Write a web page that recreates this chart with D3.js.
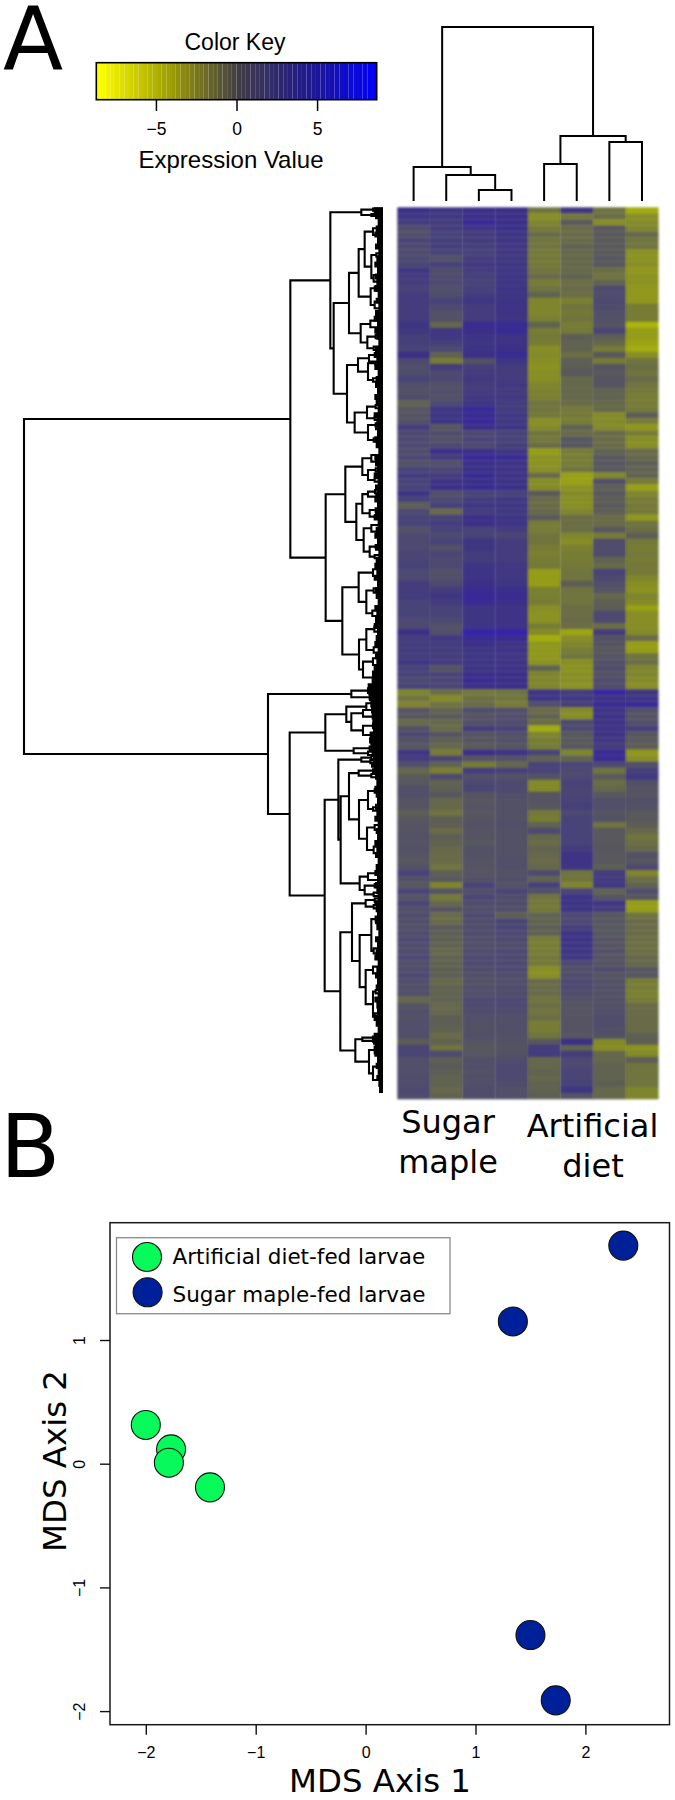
<!DOCTYPE html>
<html><head><meta charset="utf-8">
<script src="https://cdn.jsdelivr.net/npm/d3@7"></script>
<style>html,body{margin:0;padding:0;background:#fff}svg{display:block}</style>
</head><body><svg id="c" width="675" height="1800"></svg>
<script>
// ---------- heat map values, one list per sample, top row to bottom row (10 per line)
const sugar1=[3.5,3,2.5,1.2,1,1.8,1.5,1.3,1.5,1.8,
3,2.5,2.5,2,2.5,2.5,2.5,2.5,2.5,3,
2.8,2.2,2.2,2,3.5,1.5,1,1.2,2,1,
.8,1.2,-.5,.3,.5,.8,2.5,1.5,1.5,1.5,
1.2,1.5,.8,2,2.5,2,2,3.2,2,-.3,
1.5,2,2,.8,1.5,1.5,1.5,1.8,1.8,2,
1.5,1.5,2.5,2.5,2.5,2,2,2,1.5,1.5,
3.5,2.5,2.5,2.5,2.5,3,2,2,1.5,2,
-2.5,-1.5,-2.5,.5,.3,-1,.8,1.5,.8,.3,
3,2.5,1,-.8,0,.3,1,1,.5,.5,
-.3,.3,.5,.5,.8,.5,.8,.5,.3,.8,
2,.8,.3,2,.5,1.8,1,1.2,1,1,
1.2,1.5,1.2,1.2,1.5,1,1.2,1.5,1,1,
1,-.8,.5,1,.8,1,1,1,-.2,1.8,
1.8,1,1,1,1.2,1.2,1.5,1.2];
const sugar2=[3,2.8,2.5,2.5,2,2.2,2.2,2,.8,2.2,
1.2,1.2,1.5,1,1.2,2,1.5,.8,.8,-.8,
2.8,2.8,2.2,1.5,-.5,-2,2.5,1.5,1.5,.8,
1,.8,1.5,3,3,3,.3,1.2,.8,1.5,
3.5,2.5,1,1.8,2.5,3.2,3.5,1,1.5,2.2,
-1,2,2.5,2,1.5,2,.8,1.8,1.5,1.5,
.8,1,1.5,2.5,3,2.5,2,2,1.5,.8,
1,2.8,2.5,2.5,2.5,2.5,.5,1.8,1.8,1.8,
-1.2,-2.8,-1.5,-.5,0,-.8,-1,.5,-.3,-.8,
-2,1.8,-.5,-2.2,1.5,-.5,-.3,.3,-.8,-.8,
-1.5,-.3,-.3,-1,-.3,-.5,-.8,-1,-1,-1.5,
-.3,.2,-2.5,.5,-1.8,-.8,.5,-1,-1,0,
-.3,-.3,-.5,-.8,-.5,-.5,-.3,-.3,-.8,-.5,
-.5,-.5,-.8,-.8,-.3,-.3,-.5,-1,-.5,-1.5,
1.5,-.3,0,-.3,-.5,-.5,-.8,-.5];
const sugar3=[3.5,3.5,4,3,2.5,2.5,2.2,2,2.5,2.8,
2.5,2.2,2,2.2,2.5,3,2.5,2.5,2.5,3.8,
3.5,3.2,3,3.2,3.5,.8,2.2,2.5,2.8,2.5,
2.5,2.8,3,4,3.8,4,3.5,1.5,1.8,1.5,
3.5,4,3.5,3.5,3.8,3.5,3.8,1.8,2.5,3,
2.5,3.5,3.5,2,2,3,3,2.5,2.5,3,
3.2,3.2,3.5,3.8,4,3.8,3,3,3,3,
4.5,3.8,3.5,3,3,3,3,3.5,3.8,3.5,
-1.8,-1.2,-1,1.2,.5,.8,2.5,.5,.5,0,
3.5,.5,-2,2.5,1,1.5,1.8,.5,.3,.5,
.3,.5,.8,.5,.5,.3,.8,.8,.5,.5,
.5,.8,2,1,1.8,1.2,1,1.5,1.2,1.2,
1.2,1,1,1.2,1.5,1.5,1.2,1,.8,1,
1,1.5,1.5,1.2,1,.8,.8,1,.5,.3,
.3,1,1,.8,1,1,1.2,1.2];
const sugar4=[3.5,3.5,3.5,3.5,3,3,2.8,2.8,2.8,3,
3,3,3,3.2,3,3.2,3.2,3.2,3,3.8,
3.8,3.2,3.2,3.5,3.8,3,2.5,2.5,2.5,2.8,
2.5,2.8,2.5,2.5,2.8,2.8,3,2,2,2.2,
3,3.8,3.2,3.2,3.2,3.2,3.5,2,2.8,3,
2.8,3,3.2,2.5,1.8,2.5,2.5,2.5,2.5,2.8,
2.8,2.8,3,3.5,3.8,3.5,3.2,3.2,3.2,3.2,
4.5,3.8,3.2,3.2,3,3.2,3.2,3.5,3.5,3.5,
-1.5,-1.5,-2,1,1,1.2,2,1,.8,.5,
3.2,.8,-.8,2.2,.8,1.5,1.5,1,.8,.8,
.8,.8,1,.8,.8,.8,.8,.8,1,1,
.8,1,.8,1.8,1.2,1.2,1,-.3,1.8,1.8,
1.5,1.5,1.2,1.5,1.5,1.5,1.5,1.2,1,1.2,
1.2,1.5,1.5,1.2,1,1,1,.8,.8,.5,
.8,1.2,1.5,1.5,1.5,1.2,1,1];
const diet1=[-1.5,-3,-2.5,-1.8,-1,-1.5,-1.5,-1.8,-1.8,-1.8,
-1.5,-1,-2,-1.5,-.5,-2.5,-2.5,-2.5,-2.2,-.5,
-2,-1.8,-2,-3,-2.8,-3,-3.2,-3,-3,-2.5,
-2.3,-2.2,-1.5,-1.5,-1.8,-3,-2.8,-1.5,-1.8,-1,
-3.8,-3.2,-3.2,-3,-1,-3,-2.8,0,-1,-1,
-.8,0,-2,-2,-1.5,-1.5,-2,-2.2,-2,-1.8,
-3.8,-3.8,-3.8,-2.2,-2.2,-2,-3,-3.2,-3.2,-2,
-2.8,-4.6,-3.5,-3.5,-3.5,-3.2,-.5,-2.5,-2.5,-2.5,
3.2,3,1,-1,-.5,-1.2,-4.6,-2.5,-2,-2,
2,-.5,2,2,.8,-2.8,-2.8,.5,.5,.3,
-1.8,-2,-.5,1.5,-.8,-1,-.5,-.8,-1,-.8,
1.5,-.5,2.2,.8,-1.5,-1.8,-1.8,-.5,-.5,-.3,
-.5,-2,-2,-2,-1.8,-1.8,-3,-3,-1,-1,
-1,-1.5,-1.2,-1.5,-1.2,-2,-2,-1.5,.3,2.5,
2.5,-.8,-.8,-.5,-.8,-.5,-.5,-.3];
const diet2=[3,-1.8,0,-1,-1,-1,-.5,-.8,-.8,-.8,
-.8,-.5,-1.2,-1,-1.2,-2.2,-1.5,-1.8,-1.5,-2,
-1.8,-.3,-.5,-.5,-1.2,-.3,-.2,.2,-.8,-.8,
-.8,-.8,-1,-1.8,-1.8,-2,-.5,-1,.3,.3,
-2,-2,-2,-1.5,-4,-4,-3.2,-2.8,-3,-3,
-2.5,-1.2,-1.2,-1.2,-2.5,-3,-2.2,-2,-2,-1.8,
-1.5,-1.5,-.2,-1.5,-1.5,-1.5,-1.2,-1.2,-1,-1.2,
-4.2,-3,-2.5,-2,-1.5,-3,-3.2,-3,-3,-3.2,
2.5,2.8,2.2,-2.8,-3,1.5,1.5,.3,0,.3,
-2.5,-.5,1.8,1.5,1.5,2,1.8,1.8,2,2.2,
1.5,2,2,2,2,2,2.5,3.2,3.2,3,
-1.5,-1.5,-2.5,1.8,3.2,3.2,3,1.5,1.5,2.2,
3.2,3.2,3,3,2.8,1.5,1,1.2,1.5,1.5,
1.2,.8,.5,.5,.5,.5,.5,.3,3.5,-.5,
2.5,1.5,1.5,1.8,1.8,2,3,.5];
const diet3=[-1.5,-1,-3,.2,.2,0,0,0,.3,.2,
-1.2,-1.5,-.5,1.5,1.2,1.5,1.2,1,.8,.5,
1.8,-.3,-.8,-2,.2,-2,.5,.2,.5,.5,
-.5,-.5,-.8,-.8,-2.8,-2.8,-2.8,-1,-1,-1,
-.5,.2,.3,.3,-2.8,1,-.3,.2,-.2,0,
-.2,-1,-1,.3,-2,1.2,1.2,1.2,-.5,-1,
2,1.5,1,.5,-.8,-.3,-.2,1.5,1.5,-1.2,
2.5,.8,.5,.2,.5,.8,1.2,.8,1.2,1.2,
4.2,3.2,3.8,3.2,3.2,3.2,3.2,3.2,2.8,2.5,
3.8,3.8,1.5,-1.5,0,-1.2,-.8,.3,1,1,
.5,.8,-1.5,.2,.2,.2,.3,.2,.2,-.3,
2.5,2.5,2.8,-.5,.5,3,2.5,.3,.3,.3,
.3,.5,.5,.8,.5,.5,1.2,.5,.8,.8,
.8,.8,.8,1,1.2,1.2,1,.8,-2.8,-3,
-.8,-.8,-.5,-.5,-.5,-.3,-.8,-.8];
const diet4=[-4.5,-3,-2.8,-2.5,-.8,-1.5,-1.5,-3.2,-3.2,-3,
-3.5,-3.2,-3.2,-3.5,-3.5,-3.5,-2,-2,-2,-5,
-3.8,-3.8,-4.2,-4.5,-3,-1.5,-1.2,-1.5,-1,-1.5,
-1.8,-2,-2,-1.8,-.2,-2,-3.5,-2,-3,-3,
-1,-.8,-.3,-.5,-.5,-2,-4,-2.5,-2,-1.8,
-1.8,-3.5,-1.5,-1.2,-.2,-1.8,-2,-1.8,-2,-1.8,
-1.8,-2.5,-3,-3.2,-2.5,-2.8,-4,-3,-3,-3,
-2.8,-1,-3.8,-3.8,-1.5,-1.2,-2.5,-2.5,-2.8,-3,
3,3,4,1,.5,1,2.2,.3,0,-.2,
-3.5,-3,1,2.2,2.8,1,.5,.5,1,.8,
.2,.2,-.2,-.8,-1.5,-1.2,-.8,.8,.3,1.5,
-2.5,-1.2,-.5,1.2,.3,-3.8,-3.8,-1.5,-1,-1,
-1,-1.2,-1.2,-1.2,-.8,-.8,.3,.3,-2,-2,
-2.2,-2,-1,-1,-1,-1,-1,-.3,-.3,-3.2,
-2.8,-.3,-1.5,-1.5,-1.5,-1.5,-2.5,-2.5];
const heatColumns=[sugar1,sugar2,sugar3,sugar4,diet1,diet2,diet3,diet4];
const sampleIds=d3.range(heatColumns.length);

// ---------- sample dendrogram: [merge height, left, right], a number is a sample
const colTree=[174,[34,0,[26,1,[11,2,3]]],[65,[37,4,5],[59,6,7]]];

// ---------- gene dendrogram: [merge height, upper, lower], a number is a position along the gene axis
const rowTreeUpper=[278,
 [158,[65,[30,26,32],[35,42,48]],
  [148,
   [102,[73,[55,[30,85,105],[35,[20,160,170],[28,225,245]]],[37,[22,258,272],[25,305,325]]],
        [67,[38,362,382],[47,[22,405,415],[28,440,450]]]],
   [108,[75,[42,465,485],[45,[22,485,495],[30,535,545]]],
        [85,[48,[22,615,625],[25,650,660]],[45,[22,670,680],[28,715,725]]]]]],
 [172,
  [113,[62,[35,765,785],[45,[22,805,815],[25,835,845]]],
       [80,[62,[45,[24,870,880],[20,885,895]],[40,[22,925,935],[24,945,955]]],
           [58,[35,975,995],[40,[22,1035,1045],[25,1065,1075]]]]],
  [122,[73,[30,1108,1128],[50,[28,1165,1178],[32,1232,1248]]],
       [72,[50,[26,1280,1295],[28,1342,1358]],[60,[30,1375,1395],[30,1415,1450]]]]]];
const rowTreeLower=[345,
 [95,[45,1465,1479],[40,1486,1498]],
 [280,
  [173,[110,[50,1510,1530],[95,[60,1530,1550],[60,[30,1570,1585],[35,1600,1610]]]],
       [88,[40,1640,1650],[45,1655,1665]]],
  [175,
   [134,[65,[35,1668,1678],[38,1680,1690]],
        [127,[102,[73,[30,1708,1716],[35,1722,1732]],
                  [72,[45,[25,1768,1778],[30,1822,1832]],[48,[25,1875,1890],[28,1940,1960]]]],
             [70,[45,2020,2040],[55,[25,2052,2062],[28,2078,2088]]]]],
   [128,
    [93,[52,[25,2095,2105],[28,2115,2125]],
        [70,[35,[22,2150,2165],[28,2245,2260]],
            [52,[30,2300,2320],[30,[22,2370,2380],[25,2440,2460]]]]],
    [83,[62,[30,2510,2516],[30,2520,2525]],[42,[25,2540,2560],[30,2600,2640]]]]]]];
const rowTree=[1077,rowTreeUpper,rowTreeLower];
// depth of the dense tips of the gene dendrogram, one per row
const tipDepth=[32,28,24,16,22,26,18,24,14,20,26,18,24,20,28,16,22,14,24,28,
18,26,20,14,24,28,20,26,16,22,24,18,26,22,16,28,20,24,18,26,
22,14,26,24,18,28,16,24,20,26,18,24,28,16,22,26,18,24,14,22,
26,20,28,18,24,22,16,26,20,24,28,18,22,26,16,24,20,28,30,34,
46,44,42,38,36,34,32,30,40,42,38,34,30,36,28,24,20,26,22,18,
24,20,26,16,22,18,26,20,24,16,22,26,18,24,20,16,26,22,18,24,
20,14,24,18,22,26,16,20,24,18,22,16,26,20,18,24,22,16,28,30,
24,26,18,22,16,20,14,12];

// ---------- colour key
const keyTicks=[-5,0,5];
const keyStep=0.29;
const keyStops=d3.range(-8.7,8.69,keyStep);

// ---------- MDS scatter
const dietX=[-2.0,-1.77,-1.79,-1.416];
const dietY=[0.313,0.116,0.008,-0.191];
const mapleX=[1.34,2.345,1.5,1.73];
const mapleY=[1.15,1.763,-1.385,-1.913];
const mdsTicksX=[-2,-1,0,1,2];
const mdsTicksY=[-2,-1,0,1];
const legendLabels=["Artificial diet-fed larvae","Sugar maple-fed larvae"];
const GREEN="#05fa5a",BLUE="#00209a";

const svg=d3.select("#c");
const minus=d=>String(d).replace("-","\u2212");
const HELV="'Liberation Sans',Arial,sans-serif", DV="'DejaVu Sans',sans-serif";

// panel letters
svg.append("text").attr("x",3).attr("y",69).attr("font-family",DV).attr("font-size",88).text("A");
svg.append("text").attr("x",0).attr("y",1177).attr("font-family",DV).attr("font-size",88).text("B");

// colour key
const keyX=d3.scaleLinear([-8.7,8.7],[96.3,376.7]);
const keyCol=d3.scaleLinear([-8.7,-4.4,0,4.4,8.7],["#ffff00","#a0a000","#403c46","#201890","#0000ff"]);
const kg=svg.append("g");
kg.selectAll("rect").data(keyStops).join("rect")
 .attr("x",d=>keyX(d)).attr("y",63).attr("width",keyX(keyStep)-keyX(0)).attr("height",36.5)
 .attr("fill",d=>keyCol(d));
kg.append("rect").attr("x",96.3).attr("y",62.7).attr("width",280.4).attr("height",37)
 .attr("fill","none").attr("stroke","#000").attr("stroke-width",1.6);
const keyAxis=svg.append("g").attr("transform","translate(0,100)")
 .call(d3.axisBottom(keyX).tickValues(keyTicks).tickSize(11).tickPadding(12).tickFormat(minus));
keyAxis.select(".domain").remove();
keyAxis.selectAll("line").attr("stroke","#000").attr("stroke-width",1.5);
keyAxis.selectAll("text").attr("font-family",HELV).attr("font-size",17.5).attr("fill","#000");
svg.append("text").attr("x",235).attr("y",49.5).attr("text-anchor","middle").attr("font-family",HELV).attr("font-size",23).text("Color Key");
svg.append("text").attr("x",231).attr("y",168).attr("text-anchor","middle").attr("font-family",HELV).attr("font-size",24).text("Expression Value");

// heat map
const hx=d3.scaleBand(sampleIds,[397.3,658.3]);
const hy=d3.scaleBand(d3.range(sugar1.length),[207.3,1099]);
const heat=d3.scaleLinear([-6,-4,-2,0,2,3.5,5.5],["#c0cc00","#98a014","#777c35","#5a5a5a","#484378","#3b2f88","#2f14c8"]).clamp(true);
const hg=svg.append("g").style("filter","blur(0.8px)");
sampleIds.forEach(c=>{
 hg.append("g").selectAll("rect").data(heatColumns[c]).join("rect")
  .attr("x",hx(c)).attr("width",hx.bandwidth()+0.3)
  .attr("y",(d,i)=>hy(i)).attr("height",hy.bandwidth()+0.3)
  .attr("fill",d=>heat(d));
});
svg.append("g").selectAll("line").data(sampleIds.slice(1)).join("line")
 .attr("x1",d=>hx(d)).attr("x2",d=>hx(d)).attr("y1",207.3).attr("y2",1099)
 .attr("stroke","#fff").attr("stroke-opacity",.07).attr("stroke-width",1);

// dendrogram helper: position of a node is the midpoint of its children
function drawTree(node,pos,h,path,horizontal){
 if(typeof node==="number") return {p:pos(node),q:h(0)};
 const a=drawTree(node[1],pos,h,path,horizontal), b=drawTree(node[2],pos,h,path,horizontal);
 const q=h(node[0]), m=(a.p+b.p)/2;
 const pt=(p,v)=>horizontal?[v,p]:[p,v];
 path.moveTo(...pt(a.p,a.q)); path.lineTo(...pt(a.p,q)); path.lineTo(...pt(b.p,q)); path.lineTo(...pt(b.p,b.q));
 return {p:m,q:q};
}
// sample dendrogram
const cp=d3.path();
drawTree(colTree,i=>hx(i)+hx.bandwidth()/2,d3.scaleLinear([0,174],[201,27]),cp,false);
svg.append("path").attr("d",cp.toString()).attr("fill","none").attr("stroke","#000").attr("stroke-width",2);

// gene dendrogram
const rowPos=d3.scaleLinear([22,2697],[207.3,1099]);
const rowH=d3.scaleLinear([0,1077],[383,24]);
const rp=d3.path();
drawTree(rowTree,rowPos,rowH,rp,true);
svg.append("path").attr("d",rp.toString()).attr("fill","none").attr("stroke","#000").attr("stroke-width",2.1);
svg.append("path").attr("fill","#000")
 .attr("d",d3.area().curve(d3.curveStepAfter).y((d,i)=>hy(i)).x0(rowH(0)).x1(d=>rowH(d))(tipDepth));

// column captions
const caption=(t,x,y)=>svg.append("text").attr("x",x).attr("y",y).attr("text-anchor","middle").attr("font-family",DV).attr("font-size",32).text(t);
caption("Sugar",448,1133);caption("maple",448,1173);caption("Artificial",592.5,1137);caption("diet",593,1177);

// MDS scatter
const sx=d3.scaleLinear([0,1],[365.6,475.5]);
const sy=d3.scaleLinear([0,1],[1463.7,1340]);
const boxL=110,boxR=669.5,boxT=1222.7,boxB=1724.7;
svg.append("rect").attr("x",boxL).attr("y",boxT).attr("width",boxR-boxL).attr("height",boxB-boxT)
 .attr("fill","none").attr("stroke","#1a1a1a").attr("stroke-width",1.5);
const ax=svg.append("g").attr("transform",`translate(0,${boxB})`)
 .call(d3.axisBottom(sx).tickValues(mdsTicksX).tickSize(10).tickPadding(12).tickFormat(minus));
const ay=svg.append("g").attr("transform",`translate(${boxL},0)`)
 .call(d3.axisLeft(sy).tickValues(mdsTicksY).tickSize(10).tickPadding(0).tickFormat(minus));
ax.select(".domain").remove(); ay.select(".domain").remove();
[ax,ay].forEach(g=>{g.selectAll("line").attr("stroke","#111").attr("stroke-width",1.4);
 g.selectAll("text").attr("font-family",HELV).attr("font-size",16).attr("fill","#000");});
ay.selectAll("text").attr("text-anchor","middle").attr("dy",0).attr("x",0).attr("y",0)
 .attr("transform","translate(-25,0) rotate(-90)");
svg.append("g").selectAll("circle").data(dietX).join("circle")
 .attr("cx",d=>sx(d)).attr("cy",(d,i)=>sy(dietY[i])).attr("r",14.5).attr("fill",GREEN).attr("stroke","#111").attr("stroke-width",1.1);
svg.append("g").selectAll("circle").data(mapleX).join("circle")
 .attr("cx",d=>sx(d)).attr("cy",(d,i)=>sy(mapleY[i])).attr("r",14.5).attr("fill",BLUE).attr("stroke","#111").attr("stroke-width",1.1);
svg.append("text").attr("x",380).attr("y",1791.5).attr("text-anchor","middle").attr("font-family",DV).attr("font-size",32.4).text("MDS Axis 1");
svg.append("text").attr("transform","translate(66,1461) rotate(-90)").attr("text-anchor","middle").attr("font-family",DV).attr("font-size",32.4).text("MDS Axis 2");

// legend
svg.append("rect").attr("x",116.5).attr("y",1237.7).attr("width",333.5).attr("height",76)
 .attr("fill","#fff").attr("stroke","#8a8a8a").attr("stroke-width",1.3);
const lg=svg.append("g").selectAll("g").data(legendLabels).join("g");
lg.append("circle").attr("cx",(d,i)=>147+i*0.6).attr("cy",(d,i)=>1257+i*35.3).attr("r",14.5)
 .attr("fill",(d,i)=>i?BLUE:GREEN).attr("stroke","#111").attr("stroke-width",1.1);
lg.append("text").attr("x",172.5).attr("y",(d,i)=>1264+i*37.7).attr("font-family",DV).attr("font-size",21.5).text(d=>d);
</script></body></html>
